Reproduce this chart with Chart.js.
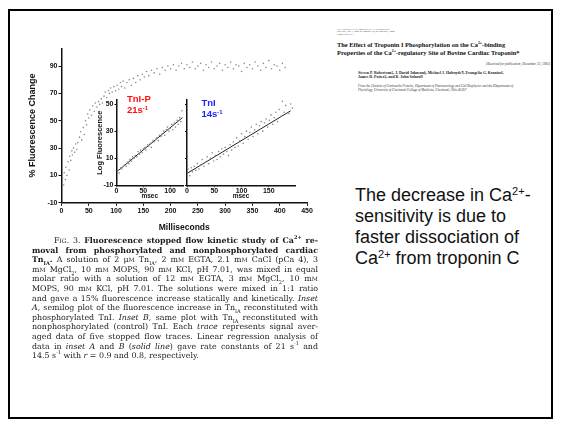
<!DOCTYPE html>
<html>
<head>
<meta charset="utf-8">
<script src="https://cdn.jsdelivr.net/npm/chart.js@4.4.1/dist/chart.umd.min.js"></script>
<style>
    body { margin: 0; width: 561px; height: 428px; background: #fff; position: relative; overflow: hidden; font-family: "Liberation Sans", Arial, sans-serif; }
    .frame { position: absolute; left: 8px; top: 9px; width: 545px; height: 410px; border: 2px solid #000; box-sizing: border-box; }
    canvas { position: absolute; }
    #main-chart { left: 20px; top: 40px; }
    #inset-a { left: 95px; top: 92px; }
    #inset-b { left: 183px; top: 92px; }
    .tag { position: absolute; font-weight: bold; font-size: 9.5px; line-height: 11px; white-space: nowrap; }
    .tag sup { font-size: 6px; vertical-align: 3px; line-height: 0; }
    .red { color: #ff1010; }
    .blue { color: #1f1fff; }
    .caption { position: absolute; left: 32px; top: 236px; width: 286px; font-family: "DejaVu Serif", "Liberation Serif", serif; font-size: 7.9px; line-height: 9.6px; color: #1a1a1a; }
    .caption div { white-space: nowrap; text-align: justify; text-align-last: justify; }
    .caption div.last { text-align-last: left; }
    .caption .first { padding-left: 22px; }
    .sc { font-variant: small-caps; }
    .caption sub, .caption sup { font-size: 5px; line-height: 0; }
    .head { position: absolute; font-family: "Liberation Serif", "DejaVu Serif", serif; color: #333; white-space: nowrap; }
    .side { position: absolute; left: 355px; top: 185px; font-size: 18px; line-height: 21px; color: #111; }
    .side sup { font-size: 11px; vertical-align: 6px; line-height: 0; }
</style>
</head>
<body>
<div class="frame"></div>

<div class="head" style="left:337px;top:29px;font-size:2.6px;line-height:2.4px;">THE JOURNAL OF BIOLOGICAL CHEMISTRY<br>Vol. 257, No. 1, Issue of January 10, pp. 260-263, 1982<br>Printed in U.S.A.</div>
<div class="head" style="left:337px;top:40px;font-size:6.4px;line-height:7px;font-weight:bold;color:#111;">The Effect of Troponin I Phosphorylation on the Ca<sup style="font-size:3.8px">2+</sup>-binding<br>Properties of the Ca<sup style="font-size:3.8px">2+</sup>-regulatory Site of Bovine Cardiac Troponin*</div>
<div class="head" style="left:470px;width:80px;text-align:right;top:62px;font-size:3.4px;font-style:italic;">(Received for publication, December 22, 1981)</div>
<div class="head" style="left:358px;top:71px;font-size:3.9px;line-height:4.4px;font-weight:bold;color:#222;">Steven P. Robertson‡, J. David Johnson§, Michael J. Holroyde¶, Evangelia G. Kranias‖,<br>James D. Potter‡, and R. John Solaro‖‖</div>
<div class="head" style="left:358px;top:84px;font-size:3.3px;line-height:4.2px;font-style:italic;">From the ‡Section of Contractile Proteins, Department of Pharmacology and Cell Biophysics and the ‖Department of<br>Physiology, University of Cincinnati College of Medicine, Cincinnati, Ohio 45267</div>

<canvas id="main-chart" width="300" height="195"></canvas>
<canvas id="inset-a" width="95" height="108"></canvas>
<canvas id="inset-b" width="118" height="108"></canvas>

<div class="tag red" style="left:127px;top:92.5px;">TnI-P</div>
<div class="tag red" style="left:127px;top:104px;">21s<sup>-1</sup></div>
<div class="tag blue" style="left:201.5px;top:97px;">TnI</div>
<div class="tag blue" style="left:201.5px;top:107.5px;">14s<sup>-1</sup></div>

<div class="caption">
    <div class="first"><span class="sc">Fig.</span> 3. <b>Fluorescence stopped flow kinetic study of Ca<sup>2+</sup> re-</b></div>
    <div><b>moval from phosphorylated and nonphosphorylated cardiac</b></div>
    <div><b>Tn<sub>IA</sub>.</b> A solution of 2 μ<span class="sc">m</span> Tn<sub>IA</sub>, 2 m<span class="sc">m</span> EGTA, 2.1 m<span class="sc">m</span> CaCl (pCa 4), 3</div>
    <div>m<span class="sc">m</span> MgCl<sub>2</sub>, 10 m<span class="sc">m</span> MOPS, 90 m<span class="sc">m</span> KCl, pH 7.01, was mixed in equal</div>
    <div>molar ratio with a solution of 12 m<span class="sc">m</span> EGTA, 3 m<span class="sc">m</span> MgCl<sub>2</sub>, 10 m<span class="sc">m</span></div>
    <div>MOPS, 90 m<span class="sc">m</span> KCl, pH 7.01. The solutions were mixed in 1:1 ratio</div>
    <div>and gave a 15% fluorescence increase statically and kinetically. <i>Inset</i></div>
    <div><i>A</i>, semilog plot of the fluorescence increase in Tn<sub>IA</sub> reconstituted with</div>
    <div>phosphorylated TnI. <i>Inset B</i>, same plot with Tn<sub>IA</sub> reconstituted with</div>
    <div>nonphosphorylated (control) TnI. Each <i>trace</i> represents signal aver-</div>
    <div>aged data of five stopped flow traces. Linear regression analysis of</div>
    <div>data in <i>inset A</i> and <i>B</i> (<i>solid line</i>) gave rate constants of 21 s<sup>-1</sup> and</div>
    <div class="last">14.5 s<sup>-1</sup> with <i>r</i> = 0.9 and 0.8, respectively.</div>
</div>

<div class="side">The decrease in Ca<sup>2+</sup>-<br>sensitivity is due to<br>faster dissociation of<br>Ca<sup>2+</sup> from troponin C</div>

<script>
// main trace: % fluorescence change vs. time (ms)
const mainTimes = [2, 4, 5, 7, 8, 10, 12, 14, 15, 17, 19, 20, 22, 24, 26, 28, 30, 33, 35, 37,
    40, 42, 44, 46, 48, 50, 52, 55, 57, 60, 62, 65, 68, 70, 73, 75, 78, 80, 83, 86,
    88, 90, 93, 96, 99, 102, 105, 108, 110, 113, 116, 120, 124, 128, 132, 136, 140, 144, 148, 152,
    156, 160, 165, 170, 175, 180, 185, 190, 195, 200, 205, 210, 215, 220, 225, 230, 235, 240, 245, 250,
    255, 260, 265, 270, 275, 280, 285, 290, 295, 300, 305, 310, 315, 320, 325, 330, 335, 340, 345, 350,
    355, 360, 365, 370, 375, 380, 385, 390, 395, 400, 405, 410];
const mainValues = [8, 3, 12, 7, 16, 10, 20, 14, 24, 21, 28, 25, 30, 27, 33, 29, 34, 38, 42, 36,
    45, 40, 50, 47, 55, 52, 58, 54, 61, 57, 63, 60, 64, 62, 66, 63, 68, 71, 67, 72,
    70, 74, 71, 75, 72, 76, 73, 78, 75, 79, 74, 78, 80, 76, 81, 78, 83, 80, 84, 82,
    86, 83, 87, 85, 88, 84, 89, 87, 90, 88, 91, 87, 90, 92, 88, 91, 89, 93, 88, 90,
    92, 87, 91, 89, 93, 88, 90, 92, 87, 91, 89, 93, 88, 91, 90, 86, 92, 89, 91, 88,
    93, 90, 87, 92, 89, 94, 88, 91, 90, 87, 92, 89];
const mainXTicks = [0, 50, 100, 150, 200, 250, 300, 350, 400, 450];
const mainYTicks = [-10, 10, 30, 50, 70, 90];

// inset A: TnI-P, semilog
const insetATimes = [3, 5, 8, 10, 13, 15, 18, 20, 23, 25, 28, 30, 33, 35, 38, 40, 43, 45, 48, 50,
    53, 55, 58, 60, 63, 65, 68, 70, 73, 75, 78, 80, 83, 85, 88, 90, 93, 95, 98, 100,
    103, 105, 108, 110, 113, 115, 118, 120, 122];
const insetAValues = [1, -1, 3, 2, 4, 5, 4, 7, 6, 9, 8, 11, 10, 12, 11, 15, 13, 16, 14, 17,
    18, 16, 20, 19, 21, 18, 23, 22, 24, 25, 23, 27, 26, 28, 30, 27, 31, 33, 30, 32,
    35, 31, 36, 33, 38, 35, 40, 37, 45];
const insetAFitTimes = [2, 123];
const insetAFitValues = [0.5, 40];
const insetAXTicks = [0, 50, 100];
const insetAYTicks = [-10, 10, 30, 50];

// inset B: TnI (control), semilog
const insetBTimes = [2, 5, 8, 10, 13, 16, 19, 22, 25, 28, 31, 34, 37, 40, 43, 46, 49, 52, 55, 58,
    61, 64, 67, 70, 73, 76, 79, 82, 85, 88, 91, 94, 97, 100, 103, 106, 109, 112, 115, 118,
    121, 124, 127, 130, 133, 136, 139, 142, 145, 148, 151, 154, 157, 160, 163, 166, 169, 172, 175, 178,
    181, 184, 187, 190, 193];
const insetBValues = [2, -3, 3, 0, 4, 1, 6, 2, 5, 9, 4, 7, 11, 6, 10, 14, 8, 12, 9, 15,
    11, 17, 13, 18, 15, 12, 20, 16, 22, 18, 25, 19, 23, 28, 21, 26, 30, 24, 29, 33,
    26, 31, 35, 28, 34, 37, 30, 36, 39, 33, 38, 42, 35, 40, 44, 37, 46, 41, 52, 44,
    49, 55, 43, 50, 47];
const insetBFitTimes = [1, 190];
const insetBFitValues = [-1, 45];
const insetBXTicks = [0, 50, 100, 150];
const insetBYTicks = [-10, 10, 30, 50];

const ink = '#111';
const tickFont = { family: "'Liberation Sans', Arial, sans-serif", size: 7, weight: 'bold' };

function pairs(xs, ys) {
    return xs.map((x, i) => ({ x: x, y: ys[i] }));
}

function axis(min, max, tickValues, size, extra) {
    const horizontal = extra.horizontal;
    return Object.assign({
        type: 'linear',
        min: min,
        max: max,
        afterBuildTicks: s => { s.ticks = tickValues.map(v => ({ value: v })); },
        afterFit: s => { if (horizontal) { s.height = size; } else { s.width = size; } },
        grid: { drawOnChartArea: false, tickLength: 3, color: ink, lineWidth: 1 },
        border: { color: ink, width: 1.5 },
        ticks: { padding: 1, color: ink, font: tickFont, maxRotation: 0, autoSkip: false }
    }, extra.opts);
}

function scatterChart(id, datasets, padding, scales) {
    return new Chart(document.getElementById(id), {
        type: 'scatter',
        data: { datasets: datasets },
        options: {
            responsive: false,
            animation: false,
            devicePixelRatio: 1,
            layout: { padding: padding },
            plugins: { legend: { display: false }, tooltip: { enabled: false } },
            scales: scales
        }
    });
}

function dots(xs, ys) {
    return { data: pairs(xs, ys), pointRadius: 0.8, pointBackgroundColor: '#8a8a8a', pointBorderWidth: 0 };
}

function fitLine(xs, ys) {
    return { type: 'line', data: pairs(xs, ys), showLine: true, borderColor: '#222', borderWidth: 1, pointRadius: 0 };
}

scatterChart('main-chart', [dots(mainTimes, mainValues)], { top: 8.3, right: 13, left: 0, bottom: 0 }, {
    x: axis(0, 450, mainXTicks, 32.2, {
        horizontal: true,
        opts: { title: { display: true, text: 'Milliseconds', color: ink, font: { family: "'Liberation Sans', Arial", size: 8.5, weight: 'bold' }, padding: { top: 0, bottom: 2 } } }
    }),
    y: axis(-10, 103, mainYTicks, 41.5, {
        horizontal: false,
        opts: { title: { display: true, text: '% Fluorescence Change', color: ink, font: { family: "'Liberation Sans', Arial", size: 9, weight: 'bold' }, padding: { top: 7, bottom: 0 } } }
    })
});

scatterChart('inset-a', [dots(insetATimes, insetAValues), fitLine(insetAFitTimes, insetAFitValues)], { top: 8, right: 7, left: 0, bottom: 0 }, {
    x: axis(0, 124, insetAXTicks, 14.7, {
        horizontal: true,
        opts: {
            grid: { drawOnChartArea: false, tickLength: 2, color: ink },
            ticks: { padding: 0, color: ink, font: tickFont, maxRotation: 0, autoSkip: false },
            title: { display: true, text: 'msec', color: ink, font: { family: "'Liberation Sans', Arial", size: 6.5, weight: 'bold' }, padding: { top: 0, bottom: 0 } }
        }
    }),
    y: axis(-10, 53, insetAYTicks, 21.5, {
        horizontal: false,
        opts: {
            grid: { drawOnChartArea: false, tickLength: 2, color: ink },
            ticks: { padding: 1, color: ink, font: tickFont, autoSkip: false },
            title: { display: true, text: 'Log Fluorescence', color: ink, font: { family: "'Liberation Sans', Arial", size: 7.5, weight: 'bold' }, padding: { top: 0, bottom: 0 } }
        }
    })
});

scatterChart('inset-b', [dots(insetBTimes, insetBValues), fitLine(insetBFitTimes, insetBFitValues)], { top: 8, right: 6, left: 0, bottom: 0 }, {
    x: axis(0, 198, insetBXTicks, 14.7, {
        horizontal: true,
        opts: {
            grid: { drawOnChartArea: false, tickLength: 2, color: ink },
            ticks: { padding: 0, color: ink, font: tickFont, maxRotation: 0, autoSkip: false },
            title: { display: true, text: 'msec', color: ink, font: { family: "'Liberation Sans', Arial", size: 6.5, weight: 'bold' }, padding: { top: 0, bottom: 0 } }
        }
    }),
    y: axis(-10, 53, insetBYTicks, 2.7, {
        horizontal: false,
        opts: {
            grid: { drawOnChartArea: false, tickLength: 2, color: ink },
            ticks: { display: false }
        }
    })
});
</script>
</body>
</html>
